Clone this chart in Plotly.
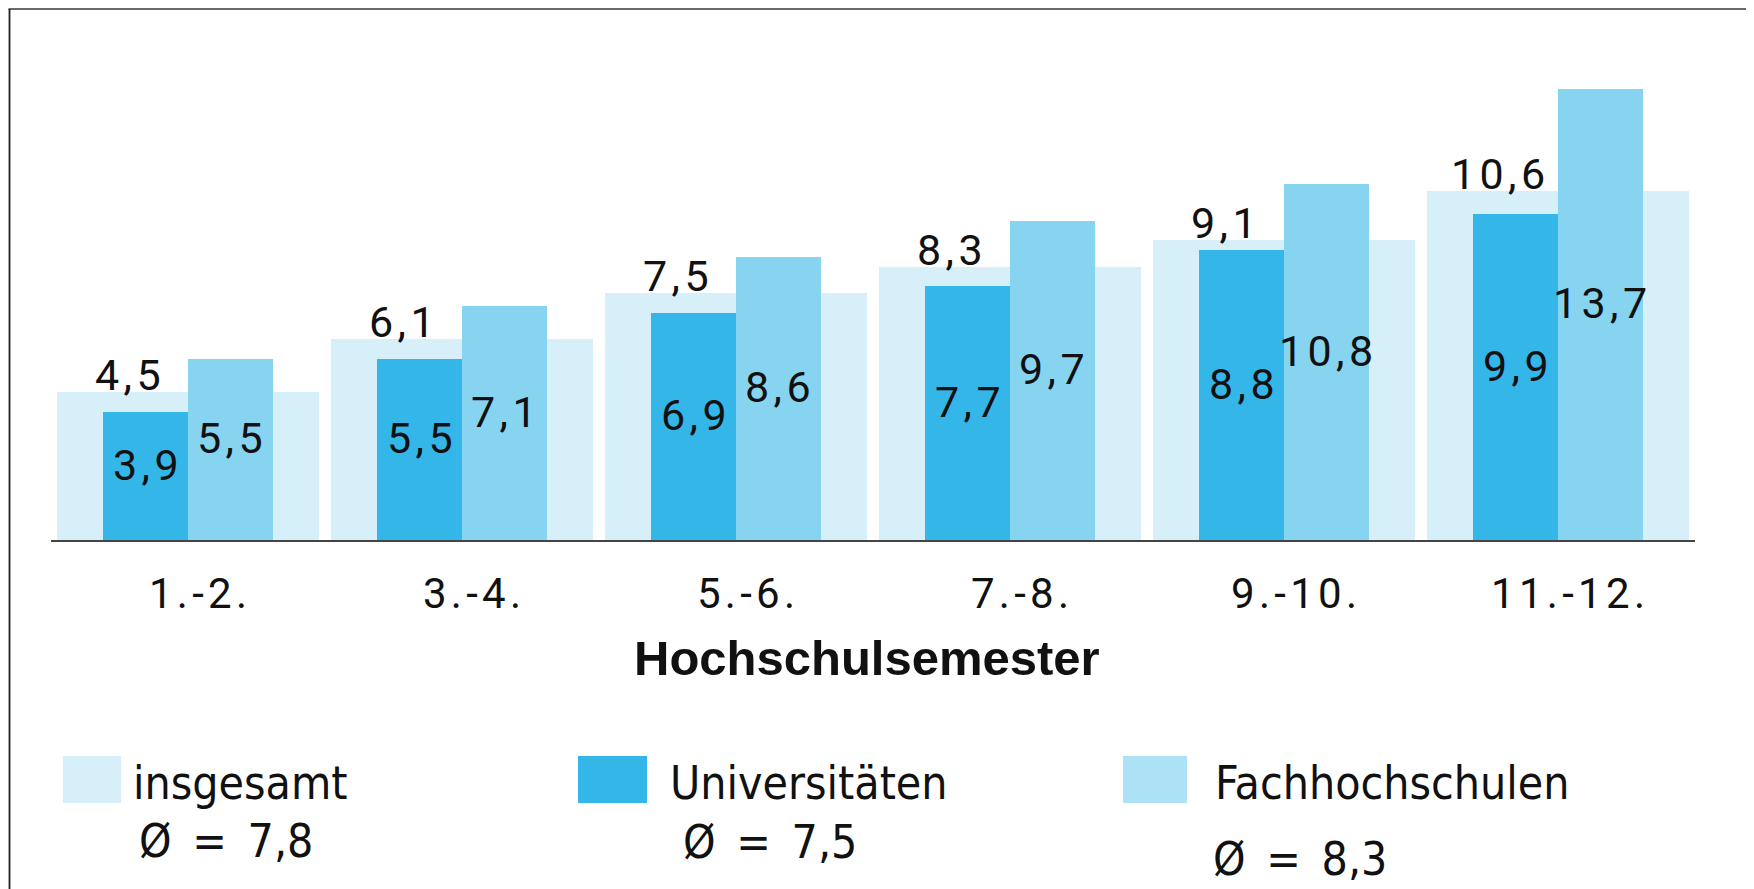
import plotly.graph_objects as go

# semester groups and rates (%)
semester = ["1.-2.", "3.-4.", "5.-6.", "7.-8.", "9.-10.", "11.-12."]
insgesamt = [4.5, 6.1, 7.5, 8.3, 9.1, 10.6]
universitaeten = [3.9, 5.5, 6.9, 7.7, 8.8, 9.9]
fachhochschulen = [5.5, 7.1, 8.6, 9.7, 10.8, 13.7]
legend_names = ["insgesamt", "Universitäten", "Fachhochschulen"]
averages = [7.8, 7.5, 8.3]

COLORS = {
    'insgesamt': '#d7eff9',
    'uni': '#35b6e9',
    'fh': '#87d4f1',
    'fh_legend': '#ade1f6',
}

FONT = "Roboto, Arial, sans-serif"
NARROW = "Liberation Sans Narrow, DejaVu Sans Condensed, Arial Narrow, sans-serif"

# page has an 8px body margin, so the figure is a bit smaller than the window
OFF = 8
W, H = 1746, 881
L, T, PW, PH = 43, 38, 1644, 494
R = W - L - PW
B = H - T - PH


def px(x):
    # page pixel -> paper coordinate
    return (x - OFF - L) / PW


def py(y):
    return (H - B - (y - OFF)) / PH


def spaced(s):
    # the original uses wide letter spacing
    return "\u200a".join(s)


def de(v):
    return f"{v:.1f}".replace(".", ",")


xs = list(range(len(semester)))

fig = go.Figure()

fig.add_trace(go.Bar(
    x=xs, y=insgesamt, name="insgesamt",
    width=0.955, offset=-0.4775,
    marker=dict(color=COLORS['insgesamt'], line=dict(width=0)),
    hoverinfo='skip'
))
fig.add_trace(go.Bar(
    x=xs, y=universitaeten, name="Universitäten",
    width=0.31, offset=-0.31,
    marker=dict(color=COLORS['uni'], line=dict(width=0)),
    hoverinfo='skip'
))
fig.add_trace(go.Bar(
    x=xs, y=fachhochschulen, name="Fachhochschulen",
    width=0.31, offset=0,
    marker=dict(color=COLORS['fh'], line=dict(width=0)),
    hoverinfo='skip'
))

label_font = dict(family=FONT, size=43, color='#111111')
annotations = []
# totals written above the wide bars, shifted left
for i, v in enumerate(insgesamt):
    annotations.append(dict(
        x=i - 0.22, y=v, xref='x', yref='y',
        text=spaced(de(v)), showarrow=False,
        xanchor='center', yanchor='bottom', yshift=-10,
        font=label_font
    ))
# values inside the narrow bars, a little above the middle
for i, (u, f) in enumerate(zip(universitaeten, fachhochschulen)):
    annotations.append(dict(
        x=i - 0.155, y=u / 2, xref='x', yref='y',
        text=spaced(de(u)), showarrow=False,
        xanchor='center', yanchor='middle', yshift=11,
        font=label_font
    ))
    annotations.append(dict(
        x=i + 0.155, y=f / 2, xref='x', yref='y',
        text=spaced(de(f)), showarrow=False,
        xanchor='center', yanchor='middle', yshift=11,
        font=label_font
    ))

# axis title
annotations.append(dict(
    x=px(867), y=py(658), xref='paper', yref='paper',
    text="<b>Hochschulsemester</b>", showarrow=False,
    xanchor='center', yanchor='middle',
    font=dict(family="Liberation Sans, Arial, sans-serif", size=49, color='#111111')
))

# legend built by hand
leg_sq = [(63, 121, 756, 803), (578, 647, 756, 803), (1123, 1187, 756, 803)]
leg_colors = [COLORS['insgesamt'], COLORS['uni'], COLORS['fh_legend']]
leg_text_x = [131, 668, 1213]
avg_pos = [(137, 841), (681, 842), (1211, 859)]

shapes = []
for (x0, x1, y0, y1), c in zip(leg_sq, leg_colors):
    shapes.append(dict(
        type='rect', xref='paper', yref='paper',
        x0=px(x0), x1=px(x1), y0=py(y1), y1=py(y0),
        fillcolor=c, line=dict(width=0)
    ))
leg_font = dict(family=NARROW, size=46, color='#111111')
for name, tx, (ax, ay), avg in zip(legend_names, leg_text_x, avg_pos, averages):
    annotations.append(dict(
        x=px(tx), y=py(783), xref='paper', yref='paper',
        text=name, showarrow=False, xanchor='left', yanchor='middle',
        font=leg_font
    ))
    annotations.append(dict(
        x=px(ax), y=py(ay), xref='paper', yref='paper',
        text="Ø\u2002=\u2002" + de(avg), showarrow=False,
        xanchor='left', yanchor='middle',
        font=leg_font
    ))

# outer frame: top, left and right edges
frame = [
    (8.5, 9, 1752, 9, '#6a6a6a'),
    (9.5, 9, 9.5, 900, '#222222'),
    (1751.5, 9, 1751.5, 900, '#6a6a6a'),
]
for x0, y0, x1, y1, c in frame:
    shapes.append(dict(
        type='line', xref='paper', yref='paper',
        x0=px(x0), y0=py(y0), x1=px(x1), y1=py(y1),
        line=dict(color=c, width=1.8), layer='below'
    ))

fig.update_layout(
    width=W, height=H,
    margin=dict(l=L, r=R, t=T, b=B, pad=0),
    paper_bgcolor='white', plot_bgcolor='white',
    barmode='overlay', bargap=0,
    showlegend=False,
    xaxis=dict(
        range=[-0.5, len(semester) - 0.5],
        tickmode='array', tickvals=xs,
        ticktext=[spaced(s) for s in semester],
        tickfont=dict(family=FONT, size=42, color='#111111'),
        ticks='', showgrid=False, zeroline=False,
        showline=True, linecolor='#444444', linewidth=1.5,
        ticklabelstandoff=16, ticklabelshift=10,
    ),
    yaxis=dict(
        range=[0, 15], visible=False, showgrid=False, zeroline=False
    ),
    annotations=annotations,
    shapes=shapes,
)

fig.write_html("out.html")
